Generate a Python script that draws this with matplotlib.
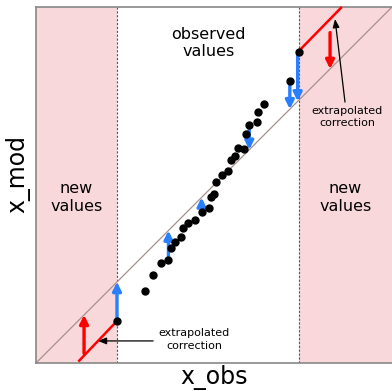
import numpy as np
import matplotlib
matplotlib.use("Agg")
import matplotlib.pyplot as plt

# observed points (x_obs, x_mod)
x_obs = [0.307, 0.330, 0.351, 0.372, 0.379, 0.390, 0.407, 0.413, 0.427, 0.447,
         0.465, 0.485, 0.492, 0.501, 0.506, 0.522, 0.539, 0.547, 0.558, 0.567,
         0.585, 0.590, 0.599, 0.621, 0.623, 0.641, 0.713]
x_mod = [0.201, 0.248, 0.280, 0.289, 0.324, 0.341, 0.353, 0.380, 0.394, 0.402,
         0.423, 0.435, 0.465, 0.475, 0.508, 0.528, 0.540, 0.570, 0.581, 0.603,
         0.601, 0.642, 0.668, 0.677, 0.705, 0.727, 0.792]

# range of observed values
obs_min = 0.2275
obs_max = 0.738

# end points of the observed range
end_x = [obs_min, obs_max]
end_y = [0.118, 0.873]

# corrections shown as blue arrows (x, x_mod)
blue_x = [obs_min, 0.372, 0.465, 0.599, 0.713, 0.735]
blue_y = [0.118, 0.289, 0.423, 0.668, 0.792, 0.873]

# extrapolated correction lines
red_lo_x = [0.119, obs_min]
red_lo_y = [0.004, 0.118]
red_hi_x = [0.735, 0.859]
red_hi_y = [0.873, 1.0]
red_arrow_x = [0.135, 0.826]
red_arrow_y = [0.027, 0.928]

pink = "#f8d8da"
blue = "#2a7fff"
red = "#ff0000"

fig = plt.figure(figsize=(3.92, 3.91), dpi=100)
ax = fig.add_axes([36 / 392, 28 / 391, 356 / 392, 356 / 391])
ax.set_xlim(0, 1)
ax.set_ylim(0, 1)

ax.axvspan(0, obs_min, color=pink, lw=0, zorder=0)
ax.axvspan(obs_max, 1, color=pink, lw=0, zorder=0)
for xv in (obs_min, obs_max):
    ax.axvline(xv, color="#555555", lw=0.8, ls=(0, (2, 1.5)), zorder=1)

ax.plot([0, 1], [0, 1], color="#a89090", lw=0.9, zorder=2)

# blue corrections: from point to the 1:1 line
for xb, yb in zip(blue_x, blue_y):
    ax.annotate("", xy=(xb, xb), xytext=(xb, yb),
                arrowprops=dict(arrowstyle="-|>,head_length=0.5,head_width=0.25",
                                color=blue, lw=2.4, shrinkA=0, shrinkB=0),
                zorder=3)

# extrapolated corrections
ax.plot(red_lo_x, red_lo_y, color=red, lw=1.8, zorder=3, solid_capstyle="butt")
ax.plot(red_hi_x, red_hi_y, color=red, lw=1.8, zorder=3, solid_capstyle="butt",
        clip_on=False)
for xr, yr in zip(red_arrow_x, red_arrow_y):
    ax.annotate("", xy=(xr, xr), xytext=(xr, yr),
                arrowprops=dict(arrowstyle="-|>,head_length=0.5,head_width=0.25",
                                color=red, lw=2.4, shrinkA=0, shrinkB=0),
                zorder=3)

ax.plot(x_obs, x_mod, "o", color="black", ms=5, zorder=4)
ax.plot(end_x, end_y, "o", color="black", ms=5, zorder=4)

# labels
ax.text(0.485, 0.899, "observed\nvalues", ha="center", va="center", fontsize=11.5,
        linespacing=1.2)
ax.text(obs_min / 2, 0.465, "new\nvalues", ha="center", va="center", fontsize=11.5,
        linespacing=1.2)
ax.text((obs_max + 1) / 2, 0.465, "new\nvalues", ha="center", va="center",
        fontsize=11.5, linespacing=1.2)

ax.text(0.445, 0.066, "extrapolated\ncorrection", ha="center", va="center",
        fontsize=8, linespacing=1.3)
ax.annotate("", xy=(0.174, 0.062), xytext=(0.329, 0.062),
            arrowprops=dict(arrowstyle="-|>,head_length=0.5,head_width=0.2",
                            color="black", lw=0.9, shrinkA=0, shrinkB=0))
ax.text(0.875, 0.691, "extrapolated\ncorrection", ha="center", va="center",
        fontsize=8, linespacing=1.3)
ax.annotate("", xy=(0.840, 0.966), xytext=(0.868, 0.733),
            arrowprops=dict(arrowstyle="-|>,head_length=0.5,head_width=0.2",
                            color="black", lw=0.9, shrinkA=0, shrinkB=0))

ax.set_xticks([])
ax.set_yticks([])
for s in ax.spines.values():
    s.set_color("#888888")
    s.set_linewidth(1.2)
ax.spines["right"].set_visible(False)

ax.set_xlabel("x_obs", fontsize=17, va="center")
ax.set_ylabel("x_mod", fontsize=17, va="center")
ax.xaxis.set_label_coords(0.5, -0.042)
ax.yaxis.set_label_coords(-0.05, 0.532)

fig.savefig("out.png", dpi=100)
